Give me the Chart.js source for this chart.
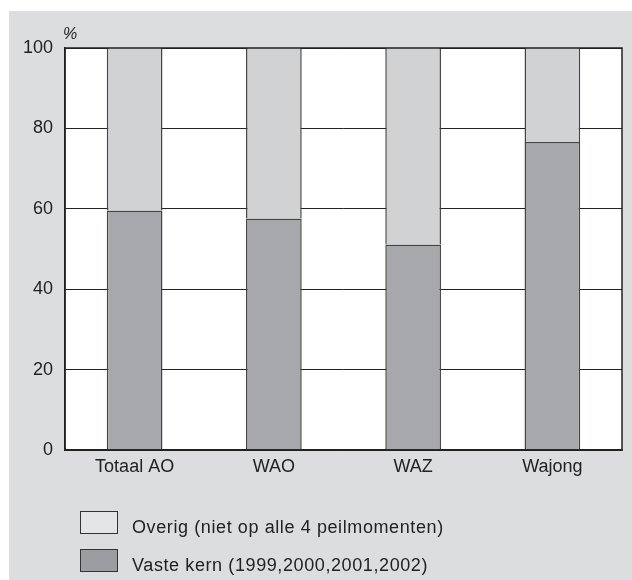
<!DOCTYPE html>
<html>
<head>
<meta charset="utf-8">
<script src="https://cdn.jsdelivr.net/npm/chart.js@4"></script>
<style>
  html, body { margin: 0; padding: 0; background: #fff; }
  #wrap { width: 632px; height: 580px; }
</style>
</head>
<body>
<div id="wrap"><canvas id="c" width="632" height="580"></canvas></div>
<script>
// --- Data ---
const categories = ["Totaal AO", "WAO", "WAZ", "Wajong"];
const vasteKern = [59.6, 57.6, 51.1, 76.6];
const overig = [40.4, 42.4, 48.9, 23.4];
const yTicks = [0, 20, 40, 60, 80, 100];

const FONT = "Arial, 'Liberation Sans', sans-serif";

// --- Hintergrund, Rahmen, % und Legende ---
const decoPlugin = {
  id: 'decoPlugin',
  beforeDraw(chart) {
    const {ctx, width, height} = chart;
    ctx.save();
    ctx.fillStyle = '#fff';
    ctx.fillRect(0, 0, width, height);
    ctx.fillStyle = '#dcdddf';
    ctx.fillRect(9, 11, width - 9, height - 11);
    const a = chart.chartArea;
    ctx.fillStyle = '#fff';
    ctx.fillRect(a.left, a.top, a.right - a.left, a.bottom - a.top);
    ctx.restore();
  },
  afterDraw(chart) {
    const {ctx} = chart;
    const a = chart.chartArea;
    ctx.save();
    // Rahmen
    ctx.strokeStyle = '#222';
    ctx.lineWidth = 1.5;
    ctx.strokeRect(a.left, a.top, a.right - a.left, a.bottom - a.top);

    // Einheit
    ctx.fillStyle = '#222';
    ctx.font = `italic 16px ${FONT}`;
    ctx.textAlign = 'left';
    ctx.textBaseline = 'alphabetic';
    ctx.fillText('%', 63, 39);

    // Legende (vertikal)
    const items = [
      { text: chart.data.datasets[1].label, color: '#e4e5e7', y: 511 },
      { text: chart.data.datasets[0].label, color: '#9c9da1', y: 549 }
    ];
    ctx.font = `18px ${FONT}`;
    ctx.letterSpacing = '0.6px';
    items.forEach(it => {
      ctx.fillStyle = it.color;
      ctx.fillRect(80, it.y, 38, 23);
      ctx.strokeStyle = '#333';
      ctx.lineWidth = 1;
      ctx.strokeRect(80.5, it.y + 0.5, 37, 22);
      ctx.fillStyle = '#222';
      ctx.fillText(it.text, 132, it.y + 22);
    });
    ctx.restore();
  }
};

new Chart(document.getElementById('c'), {
  type: 'bar',
  data: {
    labels: categories,
    datasets: [
      {
        label: 'Vaste kern (1999,2000,2001,2002)',
        data: vasteKern,
        backgroundColor: '#a7a8ab',
        borderColor: '#444',
        borderWidth: { top: 1.5, left: 1.5, right: 1.5, bottom: 0 },
        borderSkipped: false
      },
      {
        label: 'Overig (niet op alle 4 peilmomenten)',
        data: overig,
        backgroundColor: '#d1d2d4',
        borderColor: '#444',
        borderWidth: { top: 0, left: 1.5, right: 1.5, bottom: 0 },
        borderSkipped: false
      }
    ]
  },
  options: {
    responsive: false,
    animation: false,
    devicePixelRatio: 1,
    layout: { padding: { left: 0, top: 48, right: 10, bottom: 100 } },
    datasets: { bar: { categoryPercentage: 1, barPercentage: 0.4 } },
    plugins: {
      legend: { display: false },
      tooltip: { enabled: false }
    },
    scales: {
      x: {
        stacked: true,
        grid: { display: false, drawTicks: false },
        border: { color: '#222', width: 1.5 },
        ticks: { color: '#222', font: { family: FONT, size: 18 }, padding: 6 },
        afterFit(scale) { scale.height = 30; }
      },
      y: {
        stacked: true,
        min: 0,
        max: 100,
        afterBuildTicks(scale) { scale.ticks = yTicks.map(v => ({ value: v })); },
        grid: { color: '#222', lineWidth: 1, drawTicks: false },
        border: { color: '#222', width: 1.5 },
        ticks: { color: '#222', font: { family: FONT, size: 18 }, padding: 12 },
        afterFit(scale) { scale.width = 65; }
      }
    }
  },
  plugins: [decoPlugin]
});
</script>
</body>
</html>
